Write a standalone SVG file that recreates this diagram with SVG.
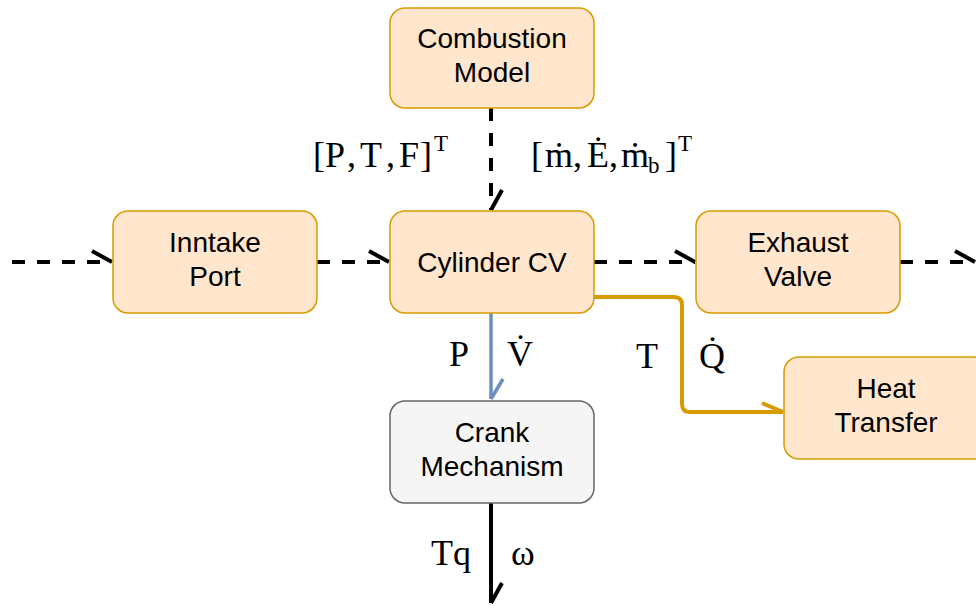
<svg xmlns="http://www.w3.org/2000/svg" width="976" height="606" viewBox="0 0 976 606">
<style>
.box{fill:#ffe6cc;stroke:#d79b00;stroke-width:1.5}
.grey{fill:#f5f5f5;stroke:#666666;stroke-width:1.5}
.lbl{font-family:"Liberation Sans",Arial,sans-serif;font-size:28px;fill:#000;text-anchor:middle}
.m{font-family:"Liberation Serif","Times New Roman",serif;font-size:36px;fill:#000}
.sup{font-size:23px}
.dash{fill:none;stroke:#000;stroke-width:4;stroke-dasharray:13 12}
</style>
<defs>
<marker id="hk" markerUnits="userSpaceOnUse" markerWidth="30" markerHeight="30" viewBox="-25 -15 30 30" refX="0" refY="0" orient="auto" overflow="visible">
<path d="M-20,-11 L0,0" fill="none" stroke="#000" stroke-width="4"/>
</marker>
<marker id="hb" markerUnits="userSpaceOnUse" markerWidth="30" markerHeight="30" viewBox="-25 -15 30 30" refX="0" refY="0" orient="auto" overflow="visible">
<path d="M-20,-12 L0,0" fill="none" stroke="#6c8ebf" stroke-width="3.5"/>
</marker>
<marker id="ho" markerUnits="userSpaceOnUse" markerWidth="30" markerHeight="30" viewBox="-25 -15 30 30" refX="0" refY="0" orient="auto" overflow="visible">
<path d="M-21,-9 L0,0" fill="none" stroke="#d79b00" stroke-width="4"/>
</marker>
</defs>
<g id="connectors">
<path class="dash" d="M12,262 H112" marker-end="url(#hk)"/>
<path class="dash" d="M317,262 H389" marker-end="url(#hk)"/>
<path class="dash" d="M594,262 H695" marker-end="url(#hk)"/>
<path class="dash" d="M900,262 H975" marker-end="url(#hk)"/>
<path class="dash" d="M491,108 V210" marker-end="url(#hk)"/>
<path d="M491,313 V399" fill="none" stroke="#6c8ebf" stroke-width="3.5" marker-end="url(#hb)"/>
<path d="M594,297 H674 Q682,297 682,305 V404 Q682,412 690,412 H783" fill="none" stroke="#d79b00" stroke-width="4" marker-end="url(#ho)"/>
<path d="M491,503 V603" fill="none" stroke="#000" stroke-width="4" marker-end="url(#hk)"/>
<text class="m" y="167"><tspan x="313">[</tspan><tspan x="325">P</tspan><tspan x="347">,</tspan><tspan x="360">T</tspan><tspan x="386">,</tspan><tspan x="399">F</tspan><tspan x="420">]</tspan><tspan class="sup" x="434" y="151">T</tspan></text>
<text class="m" y="167"><tspan x="531">[</tspan><tspan x="545">ṁ</tspan><tspan x="573">,</tspan><tspan x="587">Ė</tspan><tspan x="609">,</tspan><tspan x="621">ṁ</tspan><tspan x="648" y="173" style="font-size:23px">b</tspan><tspan x="665" y="167">]</tspan><tspan class="sup" x="678" y="151">T</tspan></text>
<text class="m" x="449" y="366">P</text>
<text class="m" x="507" y="366">V&#x307;</text>
<text class="m" x="636" y="368">T</text>
<text class="m" x="699" y="368">Q&#x307;</text>
<text class="m" x="431" y="565">Tq</text>
<text class="m" x="511" y="565">ω</text>
</g>
<g id="combustion-model">
<rect class="box" x="390" y="8" width="204" height="100" rx="15"/>
<text class="lbl" x="492" y="48">Combustion</text>
<text class="lbl" x="492" y="82">Model</text>
</g>
<g id="intake-port">
<rect class="box" x="113" y="211" width="204" height="102" rx="15"/>
<text class="lbl" x="215" y="252">Inntake</text>
<text class="lbl" x="215" y="286">Port</text>
</g>
<g id="cylinder-cv">
<rect class="box" x="390" y="211" width="204" height="102" rx="15"/>
<text class="lbl" x="492" y="272">Cylinder CV</text>
</g>
<g id="exhaust-valve">
<rect class="box" x="696" y="211" width="204" height="102" rx="15"/>
<text class="lbl" x="798" y="252">Exhaust</text>
<text class="lbl" x="798" y="286">Valve</text>
</g>
<g id="heat-transfer">
<rect class="box" x="784" y="357" width="204" height="102" rx="15"/>
<text class="lbl" x="886" y="398">Heat</text>
<text class="lbl" x="886" y="432">Transfer</text>
</g>
<g id="crank-mechanism">
<rect class="grey" x="390" y="401" width="204" height="102" rx="15"/>
<text class="lbl" x="492" y="442">Crank</text>
<text class="lbl" x="492" y="476">Mechanism</text>
</g>
</svg>
